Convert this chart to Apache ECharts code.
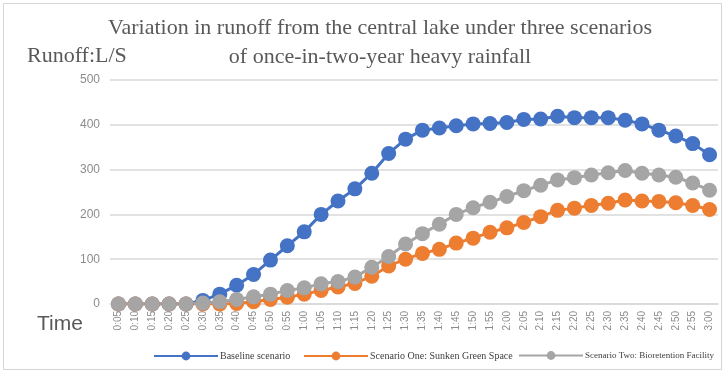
<!DOCTYPE html>
<html>
<head>
<meta charset="utf-8">
<script src="https://cdn.jsdelivr.net/npm/echarts@6/dist/echarts.min.js"></script>
<style>
  html, body { margin: 0; padding: 0; background: #fff; }
  #frame { position: absolute; left: 3px; top: 3px; width: 719px; height: 367px; border: 1.5px solid #d6d6d6; box-sizing: border-box; }
  #chart { position: absolute; left: 0; top: 0; width: 728px; height: 374px; }
</style>
</head>
<body>
<div id="frame"></div>
<div id="chart"></div>
<script>
// Time steps (h:mm) over the three-hour event
const times = ['0:05','0:10','0:15','0:20','0:25','0:30','0:35','0:40','0:45','0:50','0:55','1:00',
  '1:05','1:10','1:15','1:20','1:25','1:30','1:35','1:40','1:45','1:50','1:55','2:00',
  '2:05','2:10','2:15','2:20','2:25','2:30','2:35','2:40','2:45','2:50','2:55','3:00'];

// Runoff (L/S) for each scenario
const baseline = [0,0,0,0,0,8,22,42,66,98,130,161,
  200,230,257,292,336,368,388,393,398,402,403,405,
  412,413,419,416,416,416,410,402,388,375,358,333];
const sunkenGreen = [0,0,0,0,0,0,0,1,5,10,15,22,
  30,38,46,62,85,100,113,122,136,147,160,170,
  182,195,209,214,220,225,232,230,229,226,220,211];
const bioretention = [0,0,0,0,0,2,5,10,16,22,30,36,
  45,50,60,82,106,134,157,178,200,215,227,240,
  253,265,277,282,288,293,298,292,288,283,270,254];

const seriesNames = ['Baseline scenario', 'Scenario One: Sunken Green Space', 'Scenario Two: Bioretention Facility'];
const seriesColors = ['#4472C4', '#ED7D31', '#A5A5A5'];
const seriesData = [baseline, sunkenGreen, bioretention];

const chart = echarts.init(document.getElementById('chart'), null, { renderer: 'canvas' });

// one legend block per series so each entry sits where it belongs
const legendLeft = [153, 303, 518];
const legendFont = [10, 10, 9];

chart.setOption({
  animation: false,
  backgroundColor: 'transparent',
  title: {
    text: 'Variation in runoff from the central lake under three scenarios\nof once-in-two-year heavy rainfall',
    left: 375,
    top: 9,
    textAlign: 'center',
    textStyle: { fontFamily: 'Liberation Serif', fontSize: 22, fontWeight: 'normal', color: '#595959', lineHeight: 29 }
  },
  graphic: [
    { type: 'text', left: 27, top: 45, style: { text: 'Runoff:L/S', font: '22px "Liberation Serif"', fill: '#595959' } },
    { type: 'text', left: 37, top: 314, style: { text: 'Time', font: '21px "Liberation Sans"', fill: '#595959' } }
  ],
  legend: seriesNames.map((n, i) => ({
    data: [n],
    left: legendLeft[i],
    top: 351,
    padding: 0,
    itemWidth: 64,
    itemHeight: 11,
    textStyle: { fontFamily: 'Liberation Serif', fontSize: legendFont[i], color: '#404040', padding: [0, 0, 0, -3] }
  })),
  grid: { left: 110, right: 10, top: 80, bottom: 70 },
  xAxis: {
    type: 'category',
    data: times,
    boundaryGap: true,
    axisLine: { lineStyle: { color: '#d9d9d9', width: 1.5 } },
    axisTick: { show: false },
    axisLabel: { rotate: 90, margin: 7, fontFamily: 'Liberation Sans', fontSize: 10, color: '#8c8c8c', interval: 0 }
  },
  yAxis: {
    type: 'value',
    min: 0,
    max: 500,
    interval: 100,
    axisLine: { show: false },
    axisTick: { show: false },
    splitLine: { lineStyle: { color: '#d9d9d9', width: 1.5 } },
    axisLabel: { margin: 10, fontFamily: 'Liberation Sans', fontSize: 12, color: '#8c8c8c' }
  },
  series: seriesData.map((d, i) => ({
    name: seriesNames[i],
    type: 'line',
    data: d,
    symbol: 'circle',
    symbolSize: 15,
    color: seriesColors[i],
    lineStyle: { width: 3, color: seriesColors[i] },
    itemStyle: { color: seriesColors[i] }
  }))
});
</script>
</body>
</html>
